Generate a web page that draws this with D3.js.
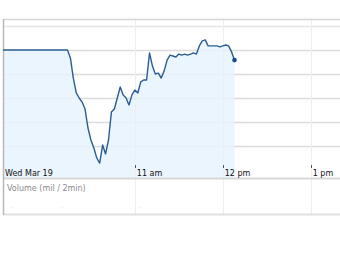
<!DOCTYPE html>
<html>
<head>
<meta charset="utf-8">
<script src="https://cdn.jsdelivr.net/npm/d3@7"></script>
<style>
  body { margin: 0; background: #fff; }
  svg { display: block; }
  text { font-family: "DejaVu Sans", Verdana, sans-serif; }
</style>
</head>
<body>
<div id="chart"></div>
<script>
// price every 2 minutes from 9:30
var prices = [100.00, 100.00, 100.00, 100.00, 100.00, 100.00, 100.00, 100.00, 100.00, 100.00,
              100.00, 100.00, 100.00, 100.00, 100.00, 100.00, 100.00, 100.00, 100.00, 100.00,
              100.00, 100.00, 100.00, 99.67, 98.83, 98.21, 98.00, 97.83, 97.54, 96.75,
              96.25, 95.92, 95.50, 95.29, 96.04, 95.67, 96.25, 97.42, 97.54, 98.00,
              98.46, 98.13, 98.00, 97.71, 98.13, 98.33, 98.21, 98.67, 98.75, 98.75,
              99.88, 99.33, 99.00, 99.04, 98.83, 99.13, 99.58, 99.79, 99.75, 99.71,
              99.83, 99.79, 99.83, 99.79, 99.83, 99.88, 99.83, 100.17, 100.38, 100.42,
              100.17, 100.17, 100.17, 100.17, 100.13, 100.17, 100.21, 100.17, 99.92, 99.58];
var priceTicks = [96, 97, 98, 99, 100, 101];
var hourTicks = [11, 12, 13];
var hourLabels = ["11 am", "12 pm", "1 pm"];
var dateLabel = "Wed Mar 19";
var volumeLabel = "Volume (mil / 2min)";
// tiny volume marks that are visible in the lower panel
var volumeTimes = [9.6, 10.17, 11.05];
var volumes = [0.3, 0.3, 0.3];

var width = 340, height = 255;
var svg = d3.select("#chart").append("svg")
    .attr("width", width)
    .attr("height", height);

var day = function(h) {
    var hh = Math.floor(h), mm = Math.round((h - hh) * 60);
    return new Date(2008, 2, 19, hh, mm);
};

var x = d3.scaleTime()
    .domain([day(9.5), day(9.5 + 337 / 88)])
    .range([3, 340]);
var y = d3.scaleLinear()
    .domain([94.667, 101.25])
    .range([178, 20]);

var data = prices.map(function(p, i) {
    return { t: new Date(day(9.5).getTime() + i * 2 * 60000), p: p };
});

// horizontal grid
svg.append("line")
    .attr("x1", 3).attr("x2", width)
    .attr("y1", 19.5).attr("y2", 19.5)
    .style("stroke", "#d6d6d6").style("stroke-width", 1.5);
svg.selectAll("line.hgrid")
    .data(priceTicks)
    .enter()
    .append("line")
    .attr("class", "hgrid")
    .attr("x1", 3).attr("x2", width)
    .attr("y1", function(d) { return Math.round(y(d)) + 0.5; })
    .attr("y2", function(d) { return Math.round(y(d)) + 0.5; })
    .style("stroke", function(d) { return d == 101 ? "#e6e6e6" : "#dcdcdc"; })
    .style("stroke-width", 1.3);

// area fill under the line
svg.append("path")
    .datum(data)
    .attr("d", d3.area()
        .x(function(d) { return x(d.t); })
        .y0(178)
        .y1(function(d) { return y(d.p); }))
    .style("fill", "#e6f3fd")
    .style("opacity", 0.85);

// vertical hour grid
svg.selectAll("line.vgrid")
    .data(hourTicks)
    .enter()
    .append("line")
    .attr("class", "vgrid")
    .attr("x1", function(d) { return Math.round(x(day(d))) + 0.5; })
    .attr("x2", function(d) { return Math.round(x(day(d))) + 0.5; })
    .attr("y1", 20).attr("y2", 214)
    .style("stroke", "#eeeeee");

// tick marks above the labels
svg.selectAll("line.tick")
    .data(hourTicks)
    .enter()
    .append("line")
    .attr("class", "tick")
    .attr("x1", function(d) { return Math.round(x(day(d))) + 0.5; })
    .attr("x2", function(d) { return Math.round(x(day(d))) + 0.5; })
    .attr("y1", 165).attr("y2", 168)
    .style("stroke", "#555");

// axis lines
svg.append("line")
    .attr("x1", 3).attr("x2", width)
    .attr("y1", 178.5).attr("y2", 178.5)
    .style("stroke", "#d8d8d8").style("stroke-width", 2);
svg.append("line")
    .attr("x1", 3).attr("x2", width)
    .attr("y1", 214.5).attr("y2", 214.5)
    .style("stroke", "#e0e0e0").style("stroke-width", 2);
svg.append("line")
    .attr("x1", 3.5).attr("x2", 3.5)
    .attr("y1", 19).attr("y2", 215)
    .style("stroke", "#b8b8b8").style("stroke-width", 1.5);

// price line
svg.append("path")
    .datum(data)
    .attr("d", d3.line()
        .x(function(d) { return x(d.t); })
        .y(function(d) { return y(d.p); }))
    .style("fill", "none")
    .style("stroke", "#2a5d93")
    .style("stroke-width", 1.4)
    .style("stroke-linejoin", "round");

var last = data[data.length - 1];
svg.append("circle")
    .attr("cx", x(last.t))
    .attr("cy", y(last.p))
    .attr("r", 2.3)
    .style("fill", "#1d4a80");

// labels
svg.append("text")
    .attr("x", 5).attr("y", 176)
    .style("font-size", "8px")
    .style("fill", "#111")
    .text(dateLabel);
svg.selectAll("text.hour")
    .data(hourTicks)
    .enter()
    .append("text")
    .attr("class", "hour")
    .attr("x", function(d) { return x(day(d)) + 2; })
    .attr("y", 176)
    .style("font-size", "8px")
    .style("fill", "#111")
    .text(function(d, i) { return hourLabels[i]; });

svg.append("text")
    .attr("x", 7).attr("y", 191)
    .style("font-size", "8px")
    .style("fill", "#8a8a8a")
    .text(volumeLabel);

// volume bars (almost nothing)
var v = d3.scaleLinear().domain([0, 10]).range([208, 195]);
svg.selectAll("rect.vol")
    .data(volumes)
    .enter()
    .append("rect")
    .attr("class", "vol")
    .attr("x", function(d, i) { return x(day(volumeTimes[i])); })
    .attr("y", function(d) { return v(d); })
    .attr("width", 1)
    .attr("height", function(d) { return 208 - v(d); })
    .style("fill", "#bbb");
</script>
</body>
</html>
